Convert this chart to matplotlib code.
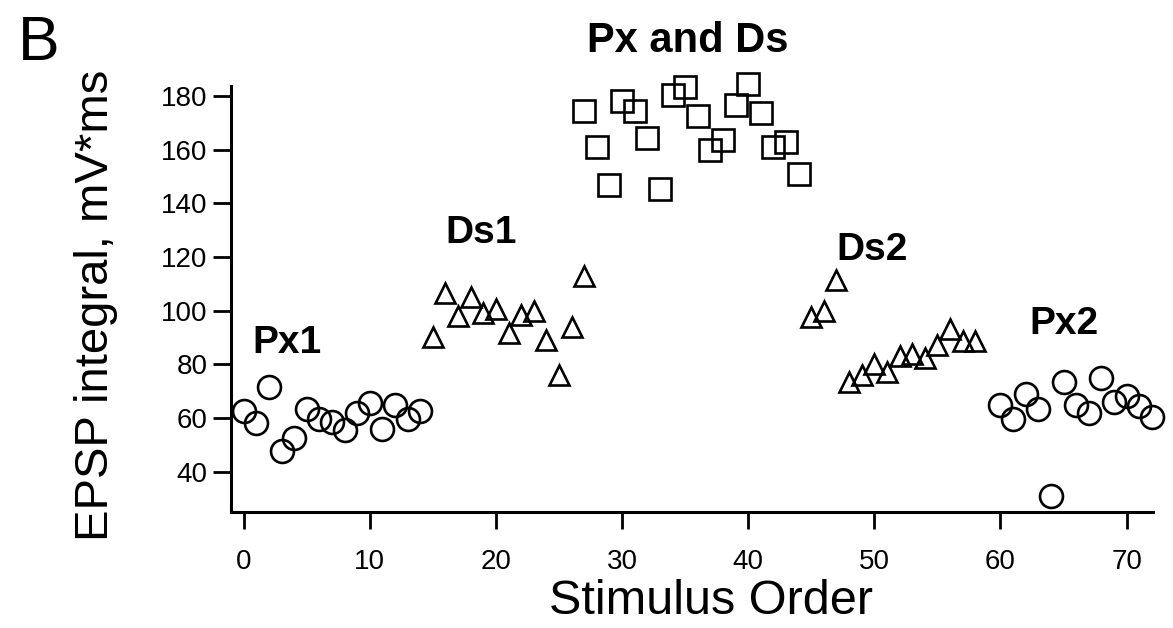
"""
Scatter of EPSP integral versus stimulus order (panel B).
"""
import matplotlib
matplotlib.use("Agg")
import matplotlib.pyplot as plt

plt.rcParams['font.family'] = ['Liberation Sans', 'DejaVu Sans']

# Px1 : circles
px1_x = list(range(0, 15))
px1_y = [62.5, 58, 71.5, 47.5, 52.5, 63.5, 59.5, 58.5, 55.5, 62, 65.5, 56, 65, 59.5, 62.5]

# Ds1 : triangles
ds1_x = list(range(15, 28))
ds1_y = [90, 106.5, 98, 105, 99, 100.5, 91.5, 98.5, 100, 89, 76, 94, 113]

# Px and Ds : squares
pxds_x = list(range(27, 45))
pxds_y = [174.5, 161, 147, 178, 174.5, 164.5, 145.5, 180.5, 183.5, 172.5,
          160, 163.5, 176.5, 184.5, 173.5, 161, 163, 151]

# Ds2 : triangles
ds2_x = list(range(45, 59))
ds2_y = [97.5, 100, 111.5, 73.5, 76, 80, 77, 83, 84, 82.5, 87, 93, 88.5, 88.5]

# Px2 : circles
px2_x = list(range(60, 73))
px2_y = [65, 59.5, 69, 63.5, 31, 73.5, 65, 62, 75, 66, 68, 64.5, 60.5]

group_labels = ["Px1", "Ds1", "Px and Ds", "Ds2", "Px2"]
label_pos = [(3.4, 88), (18.8, 129), (35.2, 200.5), (49.8, 122.5), (65.0, 95)]
label_size = [28, 28, 30, 28, 28]

x_ticks = [0, 10, 20, 30, 40, 50, 60, 70]
y_ticks = [40, 60, 80, 100, 120, 140, 160, 180]

fig = plt.figure(figsize=(11.73, 6.28), dpi=100)
ax = fig.add_axes([0.197, 0.185, 0.786, 0.678])

marker_kw = dict(linestyle='none', markerfacecolor='none', markeredgecolor='black',
                 markeredgewidth=1.9, clip_on=False)
ax.plot(px1_x, px1_y, marker='o', markersize=16.5, **marker_kw)
ax.plot(ds1_x, ds1_y, marker='^', markersize=15, **marker_kw)
ax.plot(pxds_x, pxds_y, marker='s', markersize=16, **marker_kw)
ax.plot(ds2_x, ds2_y, marker='^', markersize=15, **marker_kw)
ax.plot(px2_x, px2_y, marker='o', markersize=16.5, **marker_kw)

for text, (tx, ty), size in zip(group_labels, label_pos, label_size):
    ax.text(tx, ty, text, ha='center', va='center', fontsize=size,
            fontweight='bold', clip_on=False)

ax.set_xlim(-1.0, 72.1)
ax.set_ylim(25, 183.7)
ax.set_xticks(x_ticks)
ax.set_yticks(y_ticks)

for side in ('top', 'right'):
    ax.spines[side].set_visible(False)
for side in ('left', 'bottom'):
    ax.spines[side].set_linewidth(2.2)

ax.tick_params(axis='x', direction='out', length=12, width=2, pad=15, labelsize=20)
ax.tick_params(axis='y', direction='out', length=13, width=2, pad=4, labelsize=20)

ax.set_xlabel('Stimulus Order', fontsize=35)
ax.set_ylabel('EPSP integral, mV*ms', fontsize=34)
ax.xaxis.set_label_coords(0.52, -0.158)
ax.yaxis.set_label_coords(-0.123, 0.486)

fig.text(0.015, 0.978, 'B', fontsize=45, va='top', ha='left')

fig.savefig('out.png', dpi=100, facecolor='white')
